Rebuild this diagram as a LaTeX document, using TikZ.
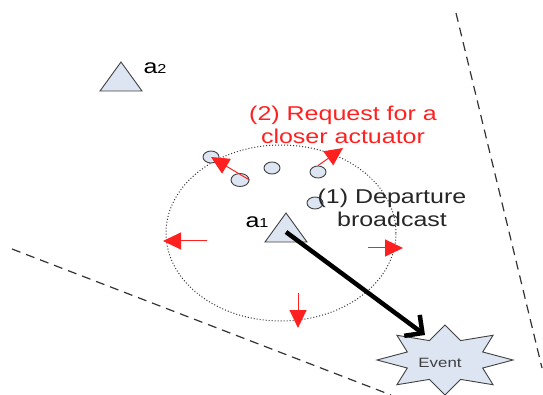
\documentclass[tikz,border=0pt]{standalone}
\usepackage{fontspec}
\setmainfont{Liberation Sans}
\usepackage{tikz}
\usetikzlibrary{arrows.meta, shapes.geometric, calc}
\definecolor{actfill}{RGB}{221,229,243}
\definecolor{reqred}{RGB}{255,32,32}
\tikzset{
  lbl/.style={font=\fontsize{20}{23}\selectfont, xscale=1.25, align=center, inner sep=0pt},
  sensor/.style={ellipse, draw=black!75, fill=actfill, line width=0.9pt, minimum width=16pt, minimum height=12pt, inner sep=0pt},
  bcast/.style={reqred, line width=1pt, -{Triangle[length=18pt,width=17pt]}},
  border/.style={black!80, line width=1.2pt, dash pattern=on 9pt off 6pt},
}
\newcommand{\actor}[1]{\draw[black!75, fill=actfill, line width=0.9pt] (#1) ++(0,-19) -- ++(21,29) -- ++(-42,0) -- cycle;}

\begin{document}
\begin{tikzpicture}[x=1pt, y=-1pt]
\useasboundingbox (0,0) rectangle (543,395);
% area borders
\coordinate (bl0) at (12,249); \coordinate (bl1) at (391,395);
\coordinate (br0) at (456,13); \coordinate (br1) at (542,368);
\draw[border] (bl0) -- (bl1);
\draw[border] (br0) -- (br1);
% broadcast range of a1
\draw[black!80, line width=1pt, dash pattern=on 1pt off 2pt] (281,233) ellipse [x radius=115pt, y radius=88pt];
% actuators
\coordinate (a2c) at (121,81);
\actor{a2c}
\node[lbl] (a2) at (155,68) {a\raisebox{0pt}{\fontsize{13}{13}\selectfont 2}};
\coordinate (a1c) at (286,232);
\actor{a1c}
\node[lbl] (a1) at (257,222) {a\raisebox{0pt}{\fontsize{13}{13}\selectfont 1}};
% sensors
\node[sensor] (s1) at (211,157) {};
\node[sensor, minimum width=18pt, minimum height=13pt] (s2) at (240,180) {};
\node[sensor] (s3) at (272,168) {};
\node[sensor] (s4) at (318,172) {};
\node[sensor] (s5) at (315,203) {};
% requests
\coordinate (r2) at (343,148);
\draw[bcast] (s2.east) -- (s1.center);
\draw[bcast] (s4.north) -- (r2);
% departure broadcast
\foreach \n/\x/\y/\u/\v in {l/207/241/163/241, r/368/248/403/248, d/298/293/298/328} {
  \coordinate (\n0) at (\x,\y); \coordinate (\n1) at (\u,\v);
  \draw[bcast] (\n0) -- (\n1);
}
\node[lbl, text=reqred] (req) at (343,125) {(2) Request for a\\closer actuator};
\node[lbl, text=black!85] (dep) at (392,208) {(1) Departure\\broadcast};
% event
\coordinate (evc) at (445,360);
\draw[black!75, fill=actfill, line width=0.9pt, shift={(evc)}]
  (0:68pt and 35pt) \foreach \i in {0,...,7} {
    -- (45*\i+22.5:40.8pt and 21pt) -- (45*\i+45:68pt and 35pt)
  } -- cycle;
\node[font=\fontsize{13.5}{14}\selectfont, xscale=1.25, text=black!75] (ev) at (440,363) {Event};
\coordinate (evtip) at (425,335);
\draw[black, line width=4.5pt, -{Straight Barb[length=13pt,width=26pt]}] (a1c) -- (evtip);
\end{tikzpicture}
\end{document}
